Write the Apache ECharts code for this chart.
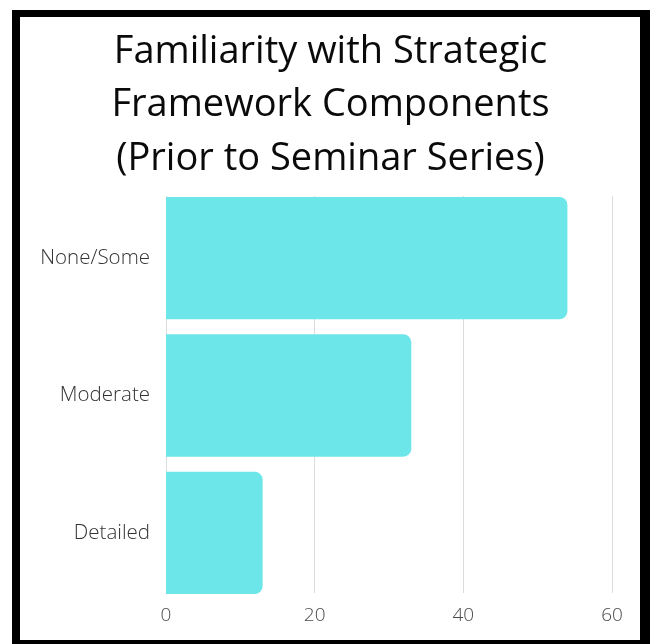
<!DOCTYPE html>
<html>
<head>
<meta charset="utf-8">
<script src="https://cdn.jsdelivr.net/npm/echarts@6/dist/echarts.min.js"></script>
<style>
  html, body { margin: 0; padding: 0; background: #fff; }
  #chart { position: absolute; left: 0; top: 0; width: 650px; height: 644px; }
  #frame { position: absolute; left: 12px; top: 10px; width: 638px; height: 634px; box-sizing: border-box;
           border-left: 8px solid #000; border-top: 7px solid #000; border-right: 10px solid #000; border-bottom: 4px solid #000;
           pointer-events: none; }
</style>
</head>
<body>
<div id="chart"></div>
<div id="frame"></div>
<script>
const titleText = 'Familiarity with Strategic\nFramework Components\n(Prior to Seminar Series)';
const categories = ['None/Some', 'Moderate', 'Detailed'];
const values = [54, 33, 13];
const xMin = 0, xMax = 60, xStep = 20;

const font = '"Open Sans", "Noto Sans", sans-serif';
const chart = echarts.init(document.getElementById('chart'), null, { renderer: 'canvas' });
chart.setOption({
  backgroundColor: '#fff',
  animation: false,
  title: {
    text: titleText,
    left: 325.5,
    textAlign: 'center',
    top: 20,
    textStyle: { fontFamily: font, fontSize: 38, fontWeight: 'normal', color: '#0a0a0a', lineHeight: 53.5 }
  },
  grid: [
    { left: 166, right: 38, top: 196, bottom: 51 },
    { left: 166, right: 38, top: 189.5, bottom: 42.5 }
  ],
  xAxis: [
    { type: 'value', gridIndex: 0, min: xMin, max: xMax, interval: xStep,
      axisLine: { show: false }, axisTick: { show: false },
      splitLine: { show: true, lineStyle: { color: '#dcdcdc', width: 1 } },
      axisLabel: { fontFamily: font, fontSize: 19, fontWeight: 300, color: '#4a4a4a', margin: 13 } },
    { type: 'value', gridIndex: 1, min: xMin, max: xMax, interval: xStep, show: false, splitLine: { show: false } }
  ],
  yAxis: [
    { type: 'category', gridIndex: 0, data: categories, show: false },
    { type: 'category', gridIndex: 1, data: categories, inverse: true,
      axisLine: { show: false }, axisTick: { show: false }, splitLine: { show: false },
      axisLabel: { fontFamily: font, fontSize: 20.5, fontWeight: 300, color: '#333', margin: 16, padding: [2, 0, 0, 0] } }
  ],
  series: [{
    type: 'bar',
    xAxisIndex: 1,
    yAxisIndex: 1,
    data: values,
    barCategoryGap: '10.9%',
    itemStyle: { color: '#6ce6e9', borderRadius: [0, 8, 8, 0] }
  }]
});
</script>
</body>
</html>
